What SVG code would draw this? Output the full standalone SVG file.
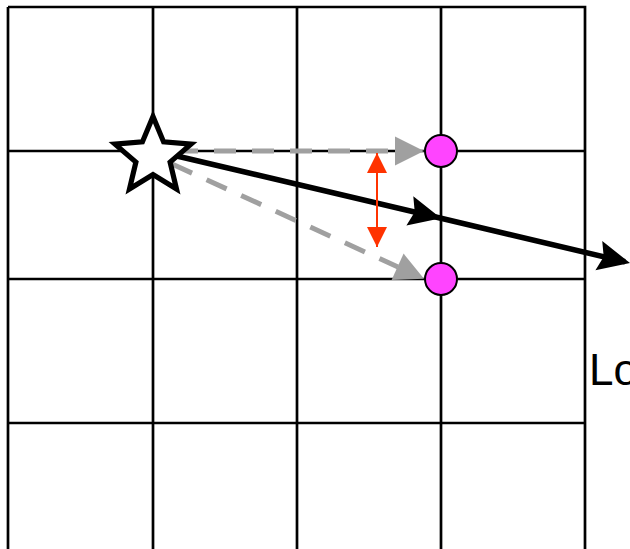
<svg xmlns="http://www.w3.org/2000/svg" width="630" height="549" viewBox="0 0 630 549">
<defs>
<style>
.grid{stroke:#000;stroke-width:2.7;fill:none}
.gray{stroke:#a0a0a0;stroke-width:5;fill:none;stroke-dasharray:22 16}
.blk{stroke:#000;stroke-width:5.5;fill:none}
.red{stroke:#ff3300;stroke-width:2;fill:none}
.pt{fill:#ff44ff;stroke:#000;stroke-width:2}
.lbl{font-family:Arial,"Liberation Sans",sans-serif;font-size:44px;fill:#000}
</style>
<marker id="ga" markerUnits="userSpaceOnUse" markerWidth="1" markerHeight="1" overflow="visible" refX="0" refY="0" orient="auto">
<path d="M0,0 L-29,-14.5 L-29,14.5 Z" fill="#a0a0a0"/>
</marker>
<marker id="ba" markerUnits="userSpaceOnUse" markerWidth="1" markerHeight="1" overflow="visible" refX="0" refY="0" orient="auto">
<path d="M0,0 L-32,-15 L-27,0 L-32,15 Z" fill="#000"/>
</marker>
<marker id="ra" markerUnits="userSpaceOnUse" markerWidth="1" markerHeight="1" overflow="visible" refX="0" refY="0" orient="auto">
<path d="M0,0 L-20,-10 L-20,10 Z" fill="#ff3300"/>
</marker>
</defs>
<rect width="630" height="549" fill="#fff"/>
<g id="grid">
<path class="grid" d="M8,7 H585 V549 M8,7 V549 M153,7 V549 M297,7 V549 M441,7 V549 M8,151 H585 M8,279 H585 M8,423 H585"/>
</g>
<g id="connectors">
<path class="gray" d="M176,151 L400,151"/>
<path d="M396,151 L424,151" stroke="none" marker-end="url(#ga)"/>
<path class="gray" d="M172,164 L398,267"/>
<path d="M398,267 L424,278.8" stroke="none" marker-end="url(#ga)"/>
<path class="blk" d="M162,152.5 L441,218.3 L625,261.8" marker-mid="url(#ba)"/>
<path d="M600,256 L630,263" stroke="none" marker-end="url(#ba)"/>
<path class="red" d="M377,170 L377,230"/>
<path class="red" d="M377,172 L377,153" marker-end="url(#ra)"/>
<path class="red" d="M377,228 L377,247" marker-end="url(#ra)"/>
</g>
<g id="star">
<polygon points="153,116.5 163.6,141.9 191,144.1 170.1,162.1 176.5,188.9 153,174.5 129.5,188.9 135.9,162.1 115,144.1 142.4,141.9" fill="#fff" stroke="#000" stroke-width="5.2" stroke-linejoin="miter"/>
</g>
<g id="point1"><circle class="pt" cx="441" cy="151" r="16"/></g>
<g id="point2"><circle class="pt" cx="441" cy="279" r="16"/></g>
<g id="label"><text class="lbl" x="589" y="385">Lo</text></g>
</svg>
